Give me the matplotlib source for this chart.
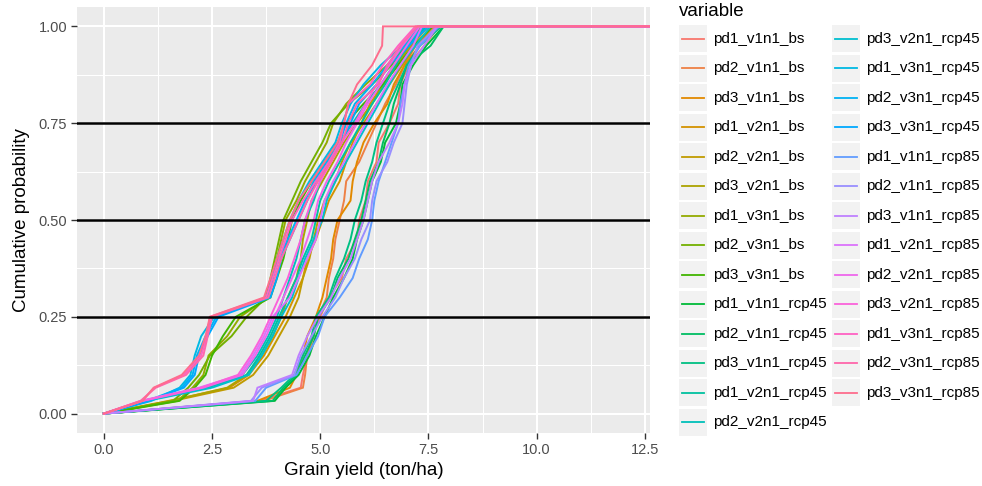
import numpy as np
import matplotlib
matplotlib.use("Agg")
import matplotlib.pyplot as plt
from matplotlib.patches import Rectangle
from matplotlib.lines import Line2D

# ---------------- data ----------------
cum_prob = [0.0, 0.033, 0.067, 0.10, 0.15, 0.20, 0.25, 0.30, 0.35, 0.40, 0.45,
            0.50, 0.55, 0.60, 0.65, 0.70, 0.75, 0.80, 0.85, 0.90, 0.95, 1.00]
x_end = 12.6  # common last evaluation point (prob = 1)

# v1 (highest yields)
pd1_v1n1_bs = [0, 3.60, 4.55, 4.60, 4.70, 4.80, 5.00, 5.20, 5.50, 5.60, 5.85, 5.90, 6.05, 6.10, 6.30, 6.35, 6.60, 6.80, 6.85, 7.05, 7.40, 7.75]
pd2_v1n1_bs = [0, 3.70, 4.60, 4.65, 4.70, 4.85, 4.95, 5.15, 5.20, 5.30, 5.35, 5.45, 5.55, 5.60, 5.90, 6.10, 6.30, 6.50, 6.75, 6.95, 7.20, 7.65]
pd3_v1n1_bs = [0, 3.55, 4.30, 4.45, 4.60, 4.70, 4.90, 5.05, 5.15, 5.25, 5.30, 5.40, 5.70, 5.75, 5.85, 6.00, 6.25, 6.55, 6.70, 6.95, 7.30, 7.55]
# v2 (middle)
pd1_v2n1_bs = [0, 1.50, 2.90, 3.35, 3.70, 3.95, 4.20, 4.40, 4.60, 4.70, 4.90, 5.05, 5.20, 5.45, 5.60, 5.75, 5.95, 6.15, 6.45, 6.75, 7.10, 7.50]
pd2_v2n1_bs = [0, 1.60, 3.00, 3.45, 3.80, 4.05, 4.30, 4.50, 4.60, 4.75, 4.85, 4.95, 5.10, 5.35, 5.50, 5.70, 6.00, 6.30, 6.60, 6.90, 7.20, 7.60]
pd3_v2n1_bs = [0, 1.55, 2.85, 3.30, 3.65, 3.90, 4.10, 4.25, 4.45, 4.55, 4.60, 4.70, 4.80, 5.05, 5.30, 5.55, 5.85, 6.20, 6.45, 6.80, 7.05, 7.45]
# v3 (lowest yields)
pd1_v3n1_bs = [0, 1.70, 2.05, 2.30, 2.42, 2.85, 3.15, 3.80, 3.90, 4.00, 4.10, 4.20, 4.45, 4.65, 4.90, 5.15, 5.30, 5.60, 6.05, 6.55, 7.00, 7.45]
pd2_v3n1_bs = [0, 1.60, 1.95, 2.20, 2.45, 2.95, 3.30, 3.75, 3.85, 3.95, 4.05, 4.15, 4.35, 4.55, 4.80, 5.05, 5.25, 5.65, 6.20, 6.65, 6.95, 7.35]
pd3_v3n1_bs = [0, 1.75, 2.10, 2.35, 2.50, 2.75, 3.05, 3.85, 4.00, 4.15, 4.25, 4.35, 4.55, 4.80, 5.10, 5.40, 5.60, 6.00, 6.45, 6.80, 7.15, 7.60]

pd1_v1n1_rcp45 = [0, 3.95, 4.20, 4.50, 4.75, 4.90, 5.10, 5.30, 5.55, 5.75, 5.85, 6.00, 6.10, 6.20, 6.40, 6.50, 6.75, 6.85, 6.90, 7.15, 7.45, 7.85]
pd2_v1n1_rcp45 = [0, 3.90, 4.15, 4.45, 4.65, 4.85, 4.95, 5.25, 5.40, 5.65, 5.80, 5.95, 6.05, 6.15, 6.35, 6.45, 6.60, 6.70, 6.85, 7.00, 7.55, 7.85]
pd3_v1n1_rcp45 = [0, 3.75, 4.10, 4.40, 4.60, 4.80, 4.90, 5.20, 5.35, 5.55, 5.70, 5.80, 5.95, 6.05, 6.20, 6.30, 6.45, 6.60, 6.80, 7.00, 7.30, 7.80]
pd1_v2n1_rcp45 = [0, 0.95, 2.40, 3.30, 3.60, 3.85, 4.05, 4.25, 4.45, 4.60, 4.80, 4.90, 5.00, 5.20, 5.45, 5.70, 5.95, 6.20, 6.50, 6.75, 7.00, 7.45]
pd2_v2n1_rcp45 = [0, 0.90, 2.30, 3.20, 3.55, 3.80, 4.00, 4.15, 4.30, 4.45, 4.55, 4.65, 4.85, 5.00, 5.20, 5.45, 5.75, 6.05, 6.40, 6.70, 7.05, 7.40]
pd3_v2n1_rcp45 = [0, 1.00, 2.50, 3.35, 3.65, 3.90, 4.10, 4.35, 4.50, 4.65, 4.85, 5.05, 5.15, 5.35, 5.60, 5.85, 6.10, 6.35, 6.60, 6.85, 7.20, 7.55]
pd1_v3n1_rcp45 = [0, 1.10, 1.75, 2.00, 2.10, 2.25, 2.55, 3.80, 3.90, 4.00, 4.15, 4.30, 4.50, 4.75, 5.05, 5.35, 5.50, 5.70, 6.00, 6.40, 6.90, 7.30]
pd2_v3n1_rcp45 = [0, 1.00, 1.80, 2.05, 2.15, 2.35, 2.60, 3.75, 3.90, 4.05, 4.25, 4.45, 4.65, 4.85, 5.15, 5.45, 5.60, 5.80, 6.20, 6.55, 6.95, 7.40]
pd3_v3n1_rcp45 = [0, 1.05, 1.85, 2.10, 2.20, 2.40, 2.65, 3.85, 4.00, 4.10, 4.30, 4.50, 4.70, 4.90, 5.20, 5.50, 5.70, 5.90, 6.30, 6.60, 7.05, 7.50]

pd1_v1n1_rcp85 = [0, 3.50, 3.75, 4.45, 4.70, 4.95, 5.10, 5.45, 5.75, 5.90, 6.10, 6.20, 6.25, 6.35, 6.50, 6.65, 6.80, 6.85, 6.95, 7.05, 7.30, 7.75]
pd2_v1n1_rcp85 = [0, 3.40, 3.65, 4.40, 4.55, 4.80, 5.05, 5.35, 5.55, 5.80, 5.95, 6.15, 6.20, 6.30, 6.55, 6.70, 6.90, 6.95, 7.00, 7.10, 7.25, 7.70]
pd3_v1n1_rcp85 = [0, 3.45, 3.55, 4.35, 4.50, 4.70, 4.95, 5.25, 5.45, 5.70, 5.85, 6.00, 6.10, 6.20, 6.35, 6.60, 6.80, 6.90, 6.95, 7.10, 7.40, 7.70]
pd1_v2n1_rcp85 = [0, 0.85, 2.20, 3.15, 3.45, 3.70, 3.90, 4.30, 4.50, 4.70, 4.90, 5.00, 5.10, 5.30, 5.55, 5.80, 6.05, 6.30, 6.55, 6.85, 7.15, 7.35]
pd2_v2n1_rcp85 = [0, 0.90, 2.30, 3.20, 3.50, 3.75, 3.95, 4.15, 4.35, 4.55, 4.70, 4.85, 4.95, 5.15, 5.40, 5.60, 5.85, 6.10, 6.40, 6.70, 7.00, 7.30]
pd3_v2n1_rcp85 = [0, 0.88, 2.25, 3.10, 3.40, 3.65, 3.85, 4.05, 4.25, 4.40, 4.55, 4.65, 4.80, 5.00, 5.25, 5.50, 5.80, 6.05, 6.30, 6.60, 6.90, 7.25]
pd1_v3n1_rcp85 = [0, 0.87, 1.17, 1.85, 2.25, 2.38, 2.45, 3.75, 3.90, 4.05, 4.20, 4.35, 4.60, 4.90, 5.20, 5.45, 5.55, 5.65, 6.15, 6.45, 6.80, 7.20]
pd2_v3n1_rcp85 = [0, 0.85, 1.20, 1.90, 2.30, 2.40, 2.50, 3.80, 3.95, 4.10, 4.30, 4.50, 4.70, 4.95, 5.25, 5.50, 5.65, 5.85, 6.35, 6.55, 6.85, 7.25]
pd3_v3n1_rcp85 = [0, 0.90, 1.15, 1.80, 2.20, 2.35, 2.45, 3.70, 3.85, 4.00, 4.15, 4.30, 4.50, 4.80, 5.10, 5.40, 5.55, 5.65, 5.85, 6.20, 6.43, 6.45]

series_names = ["pd1_v1n1_bs", "pd2_v1n1_bs", "pd3_v1n1_bs",
                "pd1_v2n1_bs", "pd2_v2n1_bs", "pd3_v2n1_bs",
                "pd1_v3n1_bs", "pd2_v3n1_bs", "pd3_v3n1_bs",
                "pd1_v1n1_rcp45", "pd2_v1n1_rcp45", "pd3_v1n1_rcp45",
                "pd1_v2n1_rcp45", "pd2_v2n1_rcp45", "pd3_v2n1_rcp45",
                "pd1_v3n1_rcp45", "pd2_v3n1_rcp45", "pd3_v3n1_rcp45",
                "pd1_v1n1_rcp85", "pd2_v1n1_rcp85", "pd3_v1n1_rcp85",
                "pd1_v2n1_rcp85", "pd2_v2n1_rcp85", "pd3_v2n1_rcp85",
                "pd1_v3n1_rcp85", "pd2_v3n1_rcp85", "pd3_v3n1_rcp85"]
series_x = [pd1_v1n1_bs, pd2_v1n1_bs, pd3_v1n1_bs,
            pd1_v2n1_bs, pd2_v2n1_bs, pd3_v2n1_bs,
            pd1_v3n1_bs, pd2_v3n1_bs, pd3_v3n1_bs,
            pd1_v1n1_rcp45, pd2_v1n1_rcp45, pd3_v1n1_rcp45,
            pd1_v2n1_rcp45, pd2_v2n1_rcp45, pd3_v2n1_rcp45,
            pd1_v3n1_rcp45, pd2_v3n1_rcp45, pd3_v3n1_rcp45,
            pd1_v1n1_rcp85, pd2_v1n1_rcp85, pd3_v1n1_rcp85,
            pd1_v2n1_rcp85, pd2_v2n1_rcp85, pd3_v2n1_rcp85,
            pd1_v3n1_rcp85, pd2_v3n1_rcp85, pd3_v3n1_rcp85]

hline_probs = [0.25, 0.50, 0.75]
x_ticks = [0.0, 2.5, 5.0, 7.5, 10.0, 12.5]
x_tick_labels = ["0.0", "2.5", "5.0", "7.5", "10.0", "12.5"]
y_ticks = [0.0, 0.25, 0.5, 0.75, 1.0]
y_tick_labels = ["0.00", "0.25", "0.50", "0.75", "1.00"]


# ---------------- ggplot hue palette ----------------
def hcl_hex(h, c=100.0, l=65.0):
    hr = np.deg2rad(h)
    u, v = c * np.cos(hr), c * np.sin(hr)
    Xn, Yn, Zn = 95.047, 100.0, 108.883
    den = Xn + 15 * Yn + 3 * Zn
    un, vn = 4 * Xn / den, 9 * Yn / den
    Y = Yn * ((l + 16) / 116) ** 3
    up = u / (13 * l) + un
    vp = v / (13 * l) + vn
    X = 9 * Y * up / (4 * vp)
    Z = Y * (12 - 3 * up - 20 * vp) / (4 * vp)
    X, Y, Z = X / 100, Y / 100, Z / 100
    r = 3.240479 * X - 1.537150 * Y - 0.498535 * Z
    g = -0.969256 * X + 1.875992 * Y + 0.041556 * Z
    b = 0.055648 * X - 0.204043 * Y + 1.057311 * Z
    out = []
    for ch in (r, g, b):
        ch = 1.055 * ch ** (1 / 2.4) - 0.055 if ch > 0.0031308 else 12.92 * ch
        out.append(min(max(ch, 0.0), 1.0))
    return tuple(out)


n = len(series_names)
colors = [hcl_hex(15 + i * 360.0 / n) for i in range(n)]

# ---------------- figure ----------------
W, H = 982, 486
plt.rcParams['font.family'] = ['Liberation Sans', 'DejaVu Sans']
fig = plt.figure(figsize=(W / 100, H / 100), dpi=100)
fig.patch.set_facecolor("white")


def fx(px):
    return px / W


def fy(py):
    return 1 - py / H


pl, pr, pt, pb = 77, 650, 7, 433
ax = fig.add_axes([fx(pl), fy(pb), fx(pr) - fx(pl), fy(pt) - fy(pb)])
ax.set_facecolor("#EBEBEB")
for s in ax.spines.values():
    s.set_visible(False)

ax.set_xlim(-0.62, 12.62)
ax.set_ylim(-0.05, 1.05)
ax.set_xticks(x_ticks)
ax.set_xticklabels(x_tick_labels)
ax.set_yticks(y_ticks)
ax.set_yticklabels(y_tick_labels)
ax.set_xticks([1.25, 3.75, 6.25, 8.75, 11.25], minor=True)
ax.set_yticks([0.125, 0.375, 0.625, 0.875], minor=True)
ax.grid(True, which="major", color="white", linewidth=1.5)
ax.grid(True, which="minor", color="white", linewidth=0.75)
ax.set_axisbelow(True)
ax.tick_params(which="major", length=4, width=1.0, color="#333333",
               labelcolor="#4D4D4D", labelsize=10.5, pad=3)
ax.tick_params(which="minor", length=0)

for name, xs, col in zip(series_names, series_x, colors):
    xx = list(xs) + [x_end]
    yy = list(cum_prob) + [1.0]
    ax.plot(xx, yy, color=col, linewidth=1.4, solid_joinstyle="miter", zorder=2)

for hp in hline_probs:
    ax.axhline(hp, color="black", linewidth=1.8, zorder=3)

ax.set_xlabel("Grain yield (ton/ha)", fontsize=13.5, color="black", labelpad=4)
ax.set_ylabel("Cumulative probability", fontsize=13.5, color="black", labelpad=6)

# ---------------- legend (ggplot style) ----------------
fig.text(fx(679), fy(12), "variable", fontsize=13.5, ha="left", va="center")
rows = 14
row_h = 29.5
for i, (name, col) in enumerate(zip(series_names, colors)):
    c_i, r_i = divmod(i, rows)
    kx = 679 + c_i * 152.7
    ky = 38.7 + r_i * row_h
    fig.patches.append(Rectangle((fx(kx), fy(ky + 13.5)), 28 / W, 27 / H,
                                 transform=fig.transFigure, facecolor="#F2F2F2",
                                 edgecolor="none"))
    fig.lines.append(Line2D([fx(kx + 3), fx(kx + 25)], [fy(ky), fy(ky)],
                            transform=fig.transFigure, color=col, linewidth=1.3))
    fig.text(fx(kx + 34), fy(ky), name, fontsize=11, ha="left", va="center")

fig.savefig("out.png", dpi=100)
